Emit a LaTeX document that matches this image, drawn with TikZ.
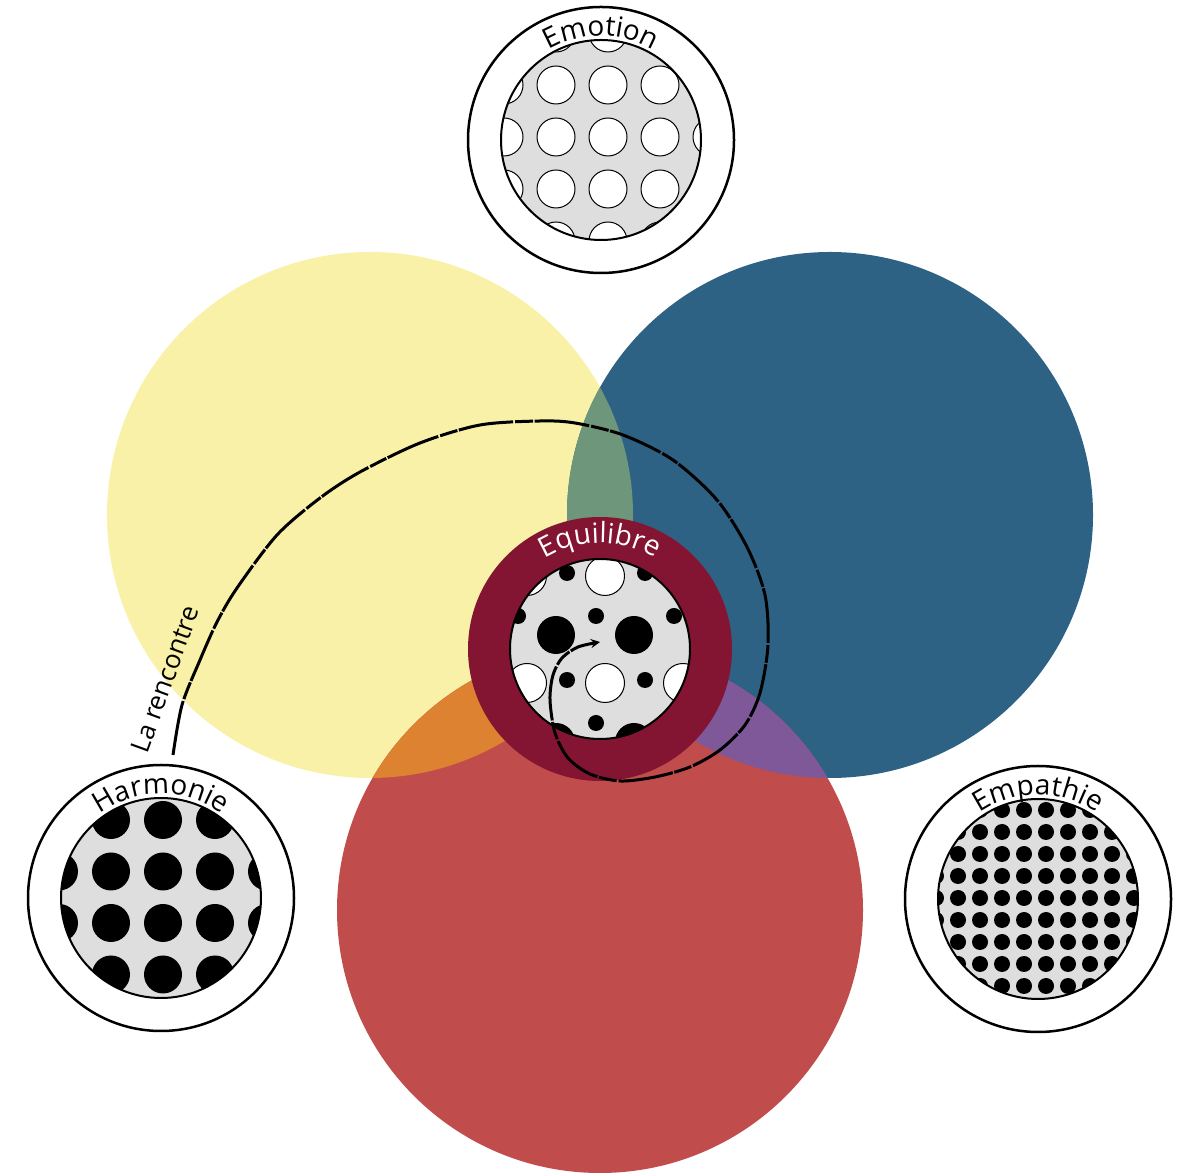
\documentclass[tikz,border=0pt]{standalone}
\usepackage{fontspec}
\setmainfont{Open Sans}
\usetikzlibrary{decorations.text}

\definecolor{creamyellow}{RGB}{248,241,167}
\definecolor{deepblue}{RGB}{45,98,133}
\definecolor{softred}{RGB}{193,76,76}
\definecolor{sagegreen}{RGB}{110,150,122}
\definecolor{amber}{RGB}{220,130,48}
\definecolor{plum}{RGB}{126,88,153}
\definecolor{wine}{RGB}{132,21,50}
\definecolor{coregrey}{RGB}{222,222,222}

\newcommand{\ringfont}{\fontsize{28}{32}\selectfont}

\tikzset{
  ring/.style={fill=white, draw=black, line width=2.5pt},
  core/.style={fill=coregrey},
  coreline/.style={draw=black, line width=2pt},
  hole/.style={fill=white, draw=black, line width=1pt},
  ringlabel/.style={decorate, decoration={text along path, text align=center, text={|\ringfont|#1}}},
}

\begin{document}
\begin{tikzpicture}[x=1pt, y=1pt, >=stealth]
    \useasboundingbox (0,0) rectangle (1180,1175);

    \coordinate (sun) at (370,660);
    \coordinate (sky) at (830,660);
    \coordinate (rose) at (600,265);
    \coordinate (emotion) at (601,1035);
    \coordinate (harmonie) at (161,277);
    \coordinate (empathie) at (1038,276);
    \coordinate (equilibre) at (600,526);

    % Three big circles
    \fill[creamyellow] (sun) circle (263);
    \fill[deepblue] (sky) circle (263);
    \fill[softred] (rose) circle (263);

    % Overlaps
    \begin{scope}
        \clip (sun) circle (263);
        \fill[sagegreen] (sky) circle (263);
        \fill[amber] (rose) circle (263);
    \end{scope}
    \begin{scope}
        \clip (sky) circle (263);
        \fill[plum] (rose) circle (263);
    \end{scope}

    % Emotion
    \draw[ring] (emotion) circle (133);
    \fill[core] (emotion) circle (100);
    \begin{scope}
        \clip (emotion) circle (100);
        \foreach \i in {-2,...,2}
            \foreach \j in {-2,...,2}
                \draw[hole] ({608+52*\i},{1038+52*\j}) circle (19);
    \end{scope}
    \draw[coreline] (emotion) circle (100);
    \path[ringlabel=Emotion] (emotion) ++(150:104) arc[start angle=150, end angle=30, radius=104];

    % Harmonie
    \draw[ring] (harmonie) circle (133);
    \fill[core] (harmonie) circle (100);
    \begin{scope}
        \clip (harmonie) circle (100);
        \foreach \i in {-2,...,2}
            \foreach \j in {-1,...,2}
                \fill ({163+52*\i},{303.5-51.5*\j}) circle (19);
    \end{scope}
    \draw[coreline] (harmonie) circle (100);
    \path[ringlabel=Harmonie] (harmonie) ++(150:104) arc[start angle=150, end angle=30, radius=104];

    % Empathie
    \draw[ring] (empathie) circle (133);
    \fill[core] (empathie) circle (100);
    \begin{scope}
        \clip (empathie) circle (100);
        \foreach \i in {-4,...,5}
            \foreach \j in {-5,...,5}
                \fill ({1024+22*\i},{277-22*\j}) circle (8);
    \end{scope}
    \draw[coreline] (empathie) circle (100);
    \path[ringlabel=Empathie] (empathie) ++(150:104) arc[start angle=150, end angle=30, radius=104];

    % Equilibre
    \fill[wine] (equilibre) circle (132);
    \fill[core] (equilibre) circle (90);
    \begin{scope}
        \clip (equilibre) circle (90);
        \foreach \i in {-2,...,2}
            \foreach \j in {-1,...,1} {
                \draw[hole] ({605+78*\i},{599-107*\j}) circle (19.5);
                \fill ({556+78*\i},{540-107*\j}) circle (19);
                \fill ({596+78*\i},{559-107*\j}) circle (8);
                \fill ({567+78*\i},{602-107*\j}) circle (8);
            }
    \end{scope}
    \draw[coreline] (equilibre) circle (90);
    \path[decorate, decoration={text along path, text align=center,
        text={|\ringfont\color{white}|Equilibre}}]
        (equilibre) ++(150:106) arc[start angle=150, end angle=30, radius=106];

    % La rencontre
    \draw[->, line width=3pt, dash pattern=on 55pt off 2pt on 18pt off 1.5pt]
        plot[smooth] coordinates {(173,420) (182,470) (200,515) (217,553) (237,587)
        (277,640) (320,677) (360,703) (420,732) (480,750) (540,754) (575,752)
        (623,740) (673,715) (717,675) (747,628) (765,580) (768,530) (760,482)
        (745,450) (720,425) (690,408) (655,398) (620,394) (590,401) (568,417)
        (555,442) (550,475) (553,500) (562,517) (578,528) (600,533)};
    \node[rotate=70, font=\fontsize{26}{30}\selectfont] (meet) at (165,496) {La rencontre};
\end{tikzpicture}
\end{document}
